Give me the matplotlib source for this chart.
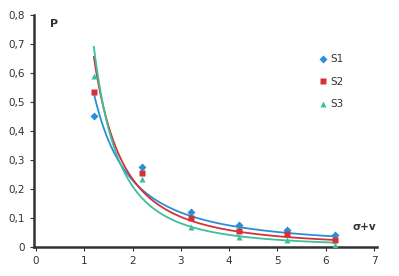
import numpy as np
import matplotlib
matplotlib.use('Agg')
import matplotlib.pyplot as plt

x = [1.2, 2.2, 3.2, 4.2, 5.2, 6.2]
s1 = [0.45, 0.275, 0.12, 0.075, 0.06, 0.04]
s2 = [0.535, 0.255, 0.10, 0.055, 0.045, 0.025]
s3 = [0.59, 0.235, 0.07, 0.035, 0.025, 0.007]

# power trendlines y = a * x^b
trend_a = [0.713, 0.945, 1.055]
trend_b = [-1.63, -2.01, -2.33]

names = ['S1', 'S2', 'S3']
colors = ['#2b8fd6', '#d6303a', '#3cc09a']
markers = [('D', 4), ('s', 4.5), ('^', 5)]

fig = plt.figure(figsize=(3.99, 2.76), dpi=100)
ax = fig.add_axes([0.085, 0.105, 0.86, 0.841])

xs = np.linspace(1.2, 6.2, 200)
for i, ys in enumerate([s1, s2, s3]):
    ax.plot(xs, trend_a[i] * xs ** trend_b[i], color=colors[i], lw=1.3, zorder=2)
    ax.plot(x, ys, ls='none', marker=markers[i][0], ms=markers[i][1], color=colors[i],
            mec='none', label=names[i], zorder=3)

ax.set_xlim(-0.04, 7.06)
ax.set_ylim(0, 0.8)
ax.set_xticks(range(8))
ax.set_yticks(np.arange(0, 0.81, 0.1))
ax.set_yticklabels(['0', '0,1', '0,2', '0,3', '0,4', '0,5', '0,6', '0,7', '0,8'])
for s in ['top', 'right']:
    ax.spines[s].set_visible(False)
for s in ['left', 'bottom']:
    ax.spines[s].set_linewidth(1.8)
    ax.spines[s].set_color('#333333')
ax.tick_params(labelsize=7.5, colors='#333333', length=3, width=0.8)

ax.text(0.3, 0.76, 'P', fontsize=8, fontweight='bold', color='#333333')
ax.text(6.55, 0.06, 'σ+v', fontsize=7.5, fontweight='bold', color='#333333')

ax.legend(loc='upper left', bbox_to_anchor=(0.80, 0.87), frameon=False, fontsize=7.5,
          handletextpad=0.2, labelspacing=1.2, handlelength=1, labelcolor='#333333')

plt.savefig('out.png', dpi=100)
